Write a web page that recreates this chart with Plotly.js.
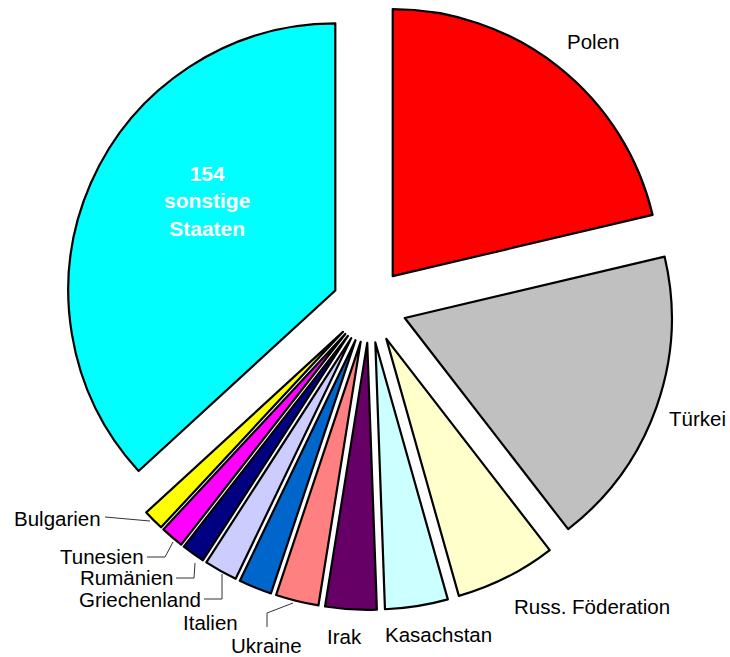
<!DOCTYPE html>
<html>
<head>
<meta charset="utf-8">
<script src="https://cdn.plot.ly/plotly-3.0.1.min.js"></script>
<style>html,body{margin:0;padding:0;background:#fff;}#chart{width:730px;height:657px;}</style>
</head>
<body>
<div id="chart"></div>
<script>
// Data (share of slices)
const categories = ["Polen", "Türkei", "Russ. Föderation", "Kasachstan", "Irak", "Ukraine",
  "Italien", "Griechenland", "Rumänien", "Tunesien", "Bulgarien", "154<br>sonstige<br>Staaten"];
const values = [213, 182, 61, 38, 31, 26, 20, 20, 14, 14, 12.5, 368];
const colors = ["#FF0000", "#C0C0C0", "#FFFFCC", "#CCFFFF", "#660066", "#FF8080",
  "#0066CC", "#CCCCFF", "#000080", "#FF00FF", "#FFFF00", "#00FFFF"];

const W = 730, H = 657;
const px = (x) => x / W;
const py = (y) => 1 - y / H;

// label positions (pixel) for each category
const labelPos = [
  [593, 41], [697, 418], [592, 606], [438, 634], [344, 636], [266, 645],
  [210, 622], [140, 599], [126, 577], [102, 556], [57, 518]
];

const annotations = labelPos.map((p, i) => ({
  x: px(p[0]), y: py(p[1]), xref: "paper", yref: "paper",
  text: categories[i], showarrow: false, xanchor: "center", yanchor: "middle",
  font: {family: "Liberation Sans, Arial, sans-serif", size: 20.5, color: "#000"}
}));
annotations.push({
  x: px(207), y: py(201), xref: "paper", yref: "paper",
  text: "<b>" + categories[11] + "</b>", showarrow: false, xanchor: "center", yanchor: "middle",
  font: {family: "Liberation Sans, Arial, sans-serif", size: 21, color: "#fff"}
});

function pathPx(pts) {
  return pts.map((p, i) => (i ? "L" : "M") + px(p[0]) + "," + py(p[1])).join(" ");
}
const leaders = [
  [[105, 517], [150, 521]],
  [[147, 557], [165, 557], [173, 542]],
  [[176, 578], [194, 578], [195, 563]],
  [[204, 599], [222, 599], [222, 574]],
  [[267, 627], [267, 613], [293, 603]]
];
const shapes = leaders.map(l => ({
  type: "path", xref: "paper", yref: "paper", path: pathPx(l),
  line: {color: "#333", width: 1}
}));

const trace = {
  type: "pie",
  labels: categories,
  values: values,
  sort: false,
  direction: "clockwise",
  rotation: 0,
  pull: values.map(() => 0.14),
  marker: {colors: colors, line: {color: "#000", width: 2.2}},
  textinfo: "none",
  hoverinfo: "skip",
  showlegend: false,
  domain: {x: [0.0892, 0.9232], y: [0.0717, 0.9983]}
};

const layout = {
  width: W, height: H,
  margin: {l: 0, r: 0, t: 0, b: 0},
  paper_bgcolor: "#fff",
  plot_bgcolor: "#fff",
  showlegend: false,
  annotations: annotations,
  shapes: shapes
};

Plotly.newPlot("chart", [trace], layout, {staticPlot: true});
</script>
</body>
</html>
